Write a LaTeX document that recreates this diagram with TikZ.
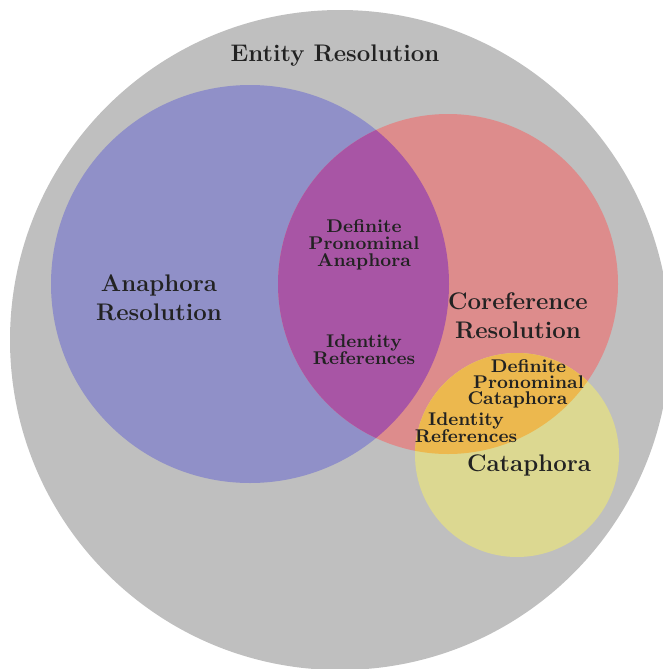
\documentclass[tikz,border=0pt]{standalone}
\usepackage{tikz}
\definecolor{cgray}{RGB}{191,191,191}
\definecolor{cblue}{RGB}{144,144,200}
\definecolor{cred}{RGB}{221,140,140}
\definecolor{cpurple}{RGB}{168,85,165}
\definecolor{cyellow}{RGB}{220,216,145}
\definecolor{corange}{RGB}{236,184,78}
\definecolor{ctext}{RGB}{34,34,34}
\tikzset{
  big/.style={text=ctext,font=\fontsize{12}{14.5}\selectfont\bfseries,align=center,inner sep=0pt},
  small/.style={text=ctext,font=\fontsize{9.2}{8.5}\selectfont\bfseries,align=center,inner sep=0pt},
  line/.style={text=ctext,font=\fontsize{9.2}{8.5}\selectfont\bfseries,inner sep=0pt,text depth=0pt,text height=5pt},
}
\begin{document}
\begin{tikzpicture}[x=0.5pt,y=-0.5pt]
\useasboundingbox (0,0) rectangle (663,669);
\begin{scope}
\clip (0,0) rectangle (663,669);
\fill[cgray] (340,340) circle[radius=330];
\end{scope}
\fill[cblue] (250,284) circle[radius=199];
\fill[cred] (448,284) circle[radius=170];
\fill[cyellow] (517,455) circle[radius=102];
\begin{scope}
\clip (250,284) circle[radius=199];
\fill[cpurple] (448,284) circle[radius=170];
\end{scope}
\begin{scope}
\clip (517,455) circle[radius=102];
\fill[corange] (448,284) circle[radius=170];
\end{scope}
\node[big] (er) at (335,56) {Entity Resolution};
\node[big] (ar) at (159,298) {Anaphora\\Resolution};
\node[big] (cr) at (518,316) {Coreference\\Resolution};
\node[big] (ca) at (529,465) {Cataphora};
\node[small] (dpa) at (364,245) {Definite\\Pronominal\\Anaphora};
\node[small] (ir1) at (364,350) {Identity\\References};
\node[line] (d2) at (528.5,367) {Definite};
\node[line] (p2) at (528.5,383) {Pronominal};
\node[line] (c2) at (517.5,399) {Cataphora};
\node[small] (ir2) at (466,428) {Identity\\References};
\end{tikzpicture}
\end{document}
